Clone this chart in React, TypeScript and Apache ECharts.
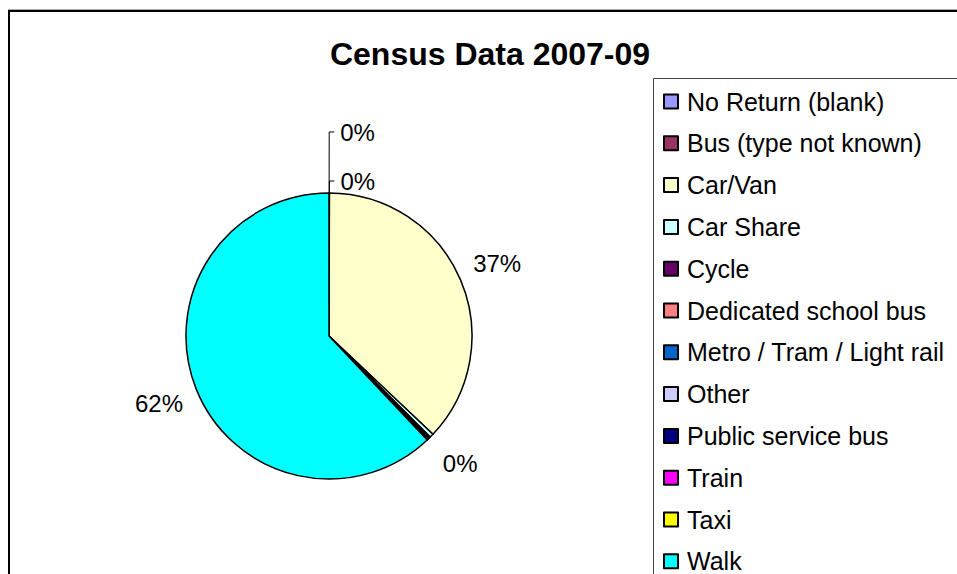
import React, { useEffect, useRef } from "react";
import * as echarts from "echarts";

const TITLE = "Census Data 2007-09";

const categories = [
  "No Return (blank)",
  "Bus (type not known)",
  "Car/Van",
  "Car Share",
  "Cycle",
  "Dedicated school bus",
  "Metro / Tram / Light rail",
  "Other",
  "Public service bus",
  "Train",
  "Taxi",
  "Walk",
];

const values = [0.03, 0.02, 37.0, 0.45, 0.1, 0.05, 0.02, 0.1, 0.05, 0.03, 0.1, 62.05];

const colors = [
  "#9999FF",
  "#993366",
  "#FFFFCC",
  "#CCFFFF",
  "#660066",
  "#FF8080",
  "#0066CC",
  "#CCCCFF",
  "#000080",
  "#FF00FF",
  "#FFFF00",
  "#00FFFF",
];

// leader-line lengths for the two labels drawn above the pie (by index)
const leaderLengths: Record<number, number> = { 0: 61, 1: 12 };

const FONT = '"Liberation Sans", Arial, sans-serif';

export default function App() {
  const ref = useRef<HTMLDivElement>(null);

  useEffect(() => {
    if (!ref.current) return;
    const chart = echarts.init(ref.current, null, { renderer: "svg" });

    const fmt = (p: any) => Math.round(p.percent) + "%";

    const pieData = categories.map((name, i) => {
      const hasLeader = leaderLengths[i] !== undefined;
      return {
        name,
        value: values[i],
        itemStyle: { color: colors[i] },
        label: { show: hasLeader },
        labelLine: hasLeader
          ? { show: true, length: leaderLengths[i], length2: 5 }
          : { show: false },
      };
    });

    const labelData = categories.map((name, i) => ({
      name,
      value: values[i],
      label: { show: leaderLengths[i] === undefined },
    }));

    chart.setOption({
      animation: false,
      backgroundColor: "#ffffff",
      textStyle: { fontFamily: FONT },
      legend: {
        type: "plain",
        orient: "vertical",
        left: 663,
        top: 89,
        height: 800,
        padding: 0,
        selectedMode: false,
        icon: "rect",
        itemWidth: 14,
        itemHeight: 14,
        itemGap: 16.8,
        data: categories,
        itemStyle: { borderColor: "#000", borderWidth: 2 },
        textStyle: {
          fontFamily: FONT,
          fontSize: 25,
          lineHeight: 25,
          color: "#000",
          padding: [0, 0, 0, 4],
        },
      },
      graphic: [
        {
          type: "line",
          z: -10,
          shape: { x1: 8, y1: 9.5, x2: 957, y2: 9.5 },
          style: { stroke: "#aaaaaa", lineWidth: 1 },
        },
        {
          type: "rect",
          z: -10,
          shape: { x: 9, y: 11, width: 1000, height: 700 },
          style: { fill: "none", stroke: "#000", lineWidth: 2 },
        },
        {
          type: "rect",
          z: -5,
          shape: { x: 653.5, y: 78.5, width: 400, height: 600 },
          style: { fill: "#fff", stroke: "#444", lineWidth: 1 },
        },
        {
          type: "text",
          x: 490,
          y: 53.5,
          style: {
            text: TITLE,
            font: `bold 32px ${FONT}`,
            fill: "#000",
            align: "center",
            verticalAlign: "middle",
          },
        },
      ],
      series: [
        {
          type: "pie",
          name: "Census",
          center: [329, 336],
          radius: 143,
          startAngle: 90,
          clockwise: true,
          avoidLabelOverlap: false,
          minAngle: 0,
          emphasis: { disabled: true },
          itemStyle: { borderColor: "#000", borderWidth: 1.5 },
          label: {
            position: "outside",
            formatter: fmt,
            fontFamily: FONT,
            fontSize: 24,
            color: "#000",
            distanceToLabelLine: 6,
          },
          labelLine: {
            lineStyle: { color: "#000", width: 1 },
          },
          data: pieData,
        },
        {
          type: "pie",
          name: "labels",
          center: [329, 336],
          radius: [143, 217],
          startAngle: 90,
          clockwise: true,
          silent: true,
          avoidLabelOverlap: false,
          emphasis: { disabled: true },
          itemStyle: { color: "rgba(0,0,0,0)", borderWidth: 0 },
          label: {
            position: "inside",
            formatter: fmt,
            fontFamily: FONT,
            fontSize: 24,
            color: "#000",
          },
          labelLine: { show: false },
          data: labelData,
        },
      ],
    });

    return () => chart.dispose();
  }, []);

  return (
    <div
      ref={ref}
      style={{ position: "fixed", left: 0, top: 0, width: 957, height: 574 }}
    />
  );
}
